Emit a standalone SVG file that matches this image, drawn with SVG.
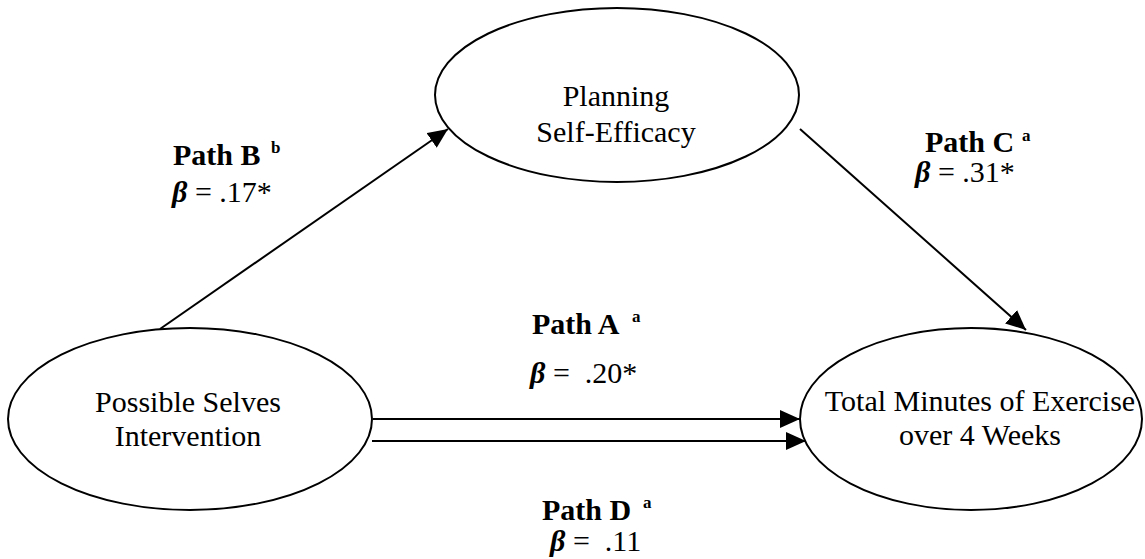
<svg xmlns="http://www.w3.org/2000/svg" width="1145" height="559" viewBox="0 0 1145 559">
<style>
.node ellipse{fill:#fff;stroke:#000;stroke-width:2}
.nt{font-family:"Liberation Serif","Times New Roman",serif;font-size:30px;fill:#000;text-anchor:middle}
.conn line{stroke:#000;stroke-width:2;fill:none}
.lbl{font-family:"Liberation Serif","Times New Roman",serif;font-size:30px;fill:#000;white-space:pre}
.b{font-weight:bold}
.sup{font-family:"Liberation Serif","Times New Roman",serif;font-size:17px;font-weight:bold;fill:#000}
.beta{font-weight:bold;font-style:italic}
</style>
<defs>
<marker id="arr" markerUnits="userSpaceOnUse" markerWidth="20" markerHeight="18" refX="20" refY="9" orient="auto">
<path d="M0,0 L20,9 L0,18 z" fill="#000"/>
</marker>
</defs>
<rect width="1145" height="559" fill="#fff"/>
<g id="connectors" class="conn">
<line x1="160" y1="329" x2="448" y2="129" marker-end="url(#arr)"/>
<line x1="800" y1="129" x2="1026" y2="330" marker-end="url(#arr)"/>
<line x1="373" y1="419" x2="800" y2="419" marker-end="url(#arr)"/>
<line x1="372" y1="441" x2="806" y2="441" marker-end="url(#arr)"/>
</g>
<g id="node-planning" class="node">
<ellipse cx="617" cy="95" rx="182" ry="87"/>
<text class="nt" x="616" y="106">Planning</text>
<text class="nt" x="616" y="142">Self-Efficacy</text>
</g>
<g id="node-intervention" class="node">
<ellipse cx="190" cy="419" rx="182" ry="91"/>
<text class="nt" x="188" y="412">Possible Selves</text>
<text class="nt" x="188" y="446">Intervention</text>
</g>
<g id="node-exercise" class="node">
<ellipse cx="971" cy="419" rx="171" ry="91"/>
<text class="nt" x="980" y="411">Total Minutes of Exercise</text>
<text class="nt" x="980" y="445">over 4 Weeks</text>
</g>
<g id="labels">
<text class="lbl b" x="173" y="165">Path B</text>
<text class="sup" x="271" y="153">b</text>
<text class="lbl" x="172" y="202"><tspan class="beta">β</tspan> = .17*</text>
<text class="lbl b" x="925" y="152">Path C</text>
<text class="sup" x="1022" y="141">a</text>
<text class="lbl" x="915" y="182"><tspan class="beta">β</tspan> = .31*</text>
<text class="lbl b" x="532" y="334">Path A</text>
<text class="sup" x="632" y="322">a</text>
<text class="lbl" x="530" y="383"><tspan class="beta">β</tspan> =  .20*</text>
<text class="lbl b" x="542" y="520">Path D</text>
<text class="sup" x="643" y="508">a</text>
<text class="lbl" x="550" y="551"><tspan class="beta">β</tspan> =  .11</text>
</g>
</svg>
